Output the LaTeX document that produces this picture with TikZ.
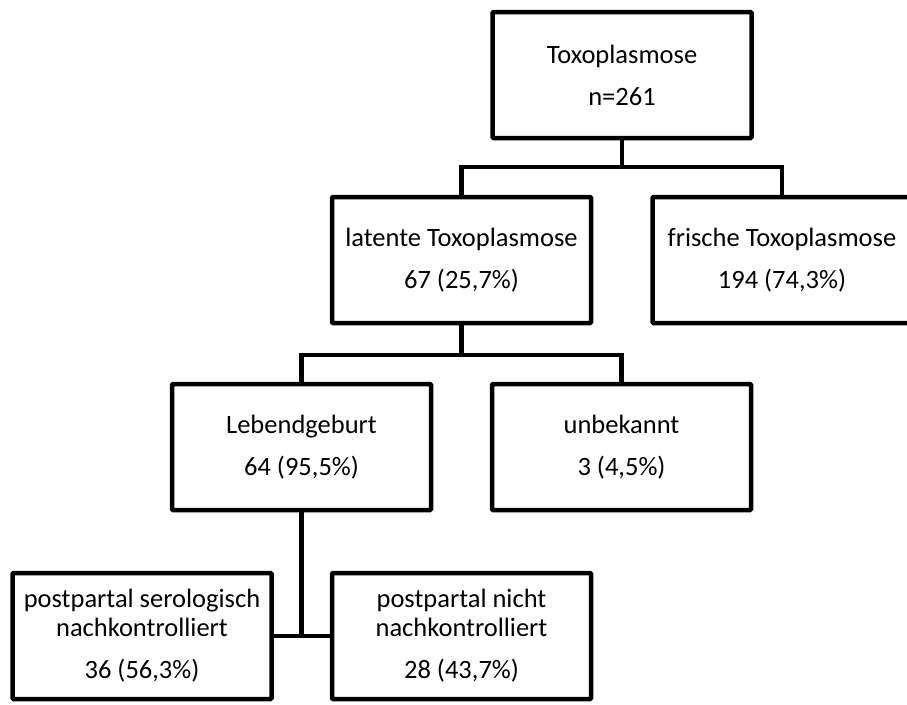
\documentclass[tikz,border=0pt]{standalone}
\usepackage{fontspec}
\setmainfont{Carlito}
\begin{document}
\begin{tikzpicture}[x=1pt,y=-1pt,
  box/.style={draw=black, line width=4.5pt, fill=white, rounded corners=1pt,
    minimum width=259pt, minimum height=126pt, inner sep=0pt, align=center,
    font=\fontsize{26.5}{42}\selectfont},
  tallbox/.style={box, font=\fontsize{26.5}{29}\selectfont},
  conn/.style={draw=black, line width=4.5pt}]
\useasboundingbox (0,0) rectangle (907,704);
\fill[white] (0,0) rectangle (907,704);
\node[box] (top) at (622,75) {Toxoplasmose\\n=261};
\node[box] (lat) at (461.5,260) {latente Toxoplasmose\\67 (25,7\%)};
\node[box] (fri) at (782,260) {frische Toxoplasmose\\194 (74,3\%)};
\node[box] (leb) at (301.5,447) {Lebendgeburt\\64 (95,5\%)};
\node[box] (unb) at (621.5,447) {unbekannt\\3 (4,5\%)};
\node[tallbox] (ps) at (142,636) {postpartal serologisch\\nachkontrolliert\\[13pt]36 (56,3\%)};
\node[tallbox] (pn) at (461.5,636) {postpartal nicht\\nachkontrolliert\\[13pt]28 (43,7\%)};
\coordinate (b1) at (622,167);
\coordinate (b2) at (461.5,355);
\draw[conn] (top.south) -- (b1);
\draw[conn] (lat.north) -- (lat.north |- b1) -- (fri.north |- b1) -- (fri.north);
\draw[conn] (lat.south) -- (b2);
\draw[conn] (leb.north) -- (leb.north |- b2) -- (unb.north |- b2) -- (unb.north);
\draw[conn] (leb.south) -- (leb.south |- ps.east);
\draw[conn] (ps.east) -- (pn.west);
\end{tikzpicture}
\end{document}
